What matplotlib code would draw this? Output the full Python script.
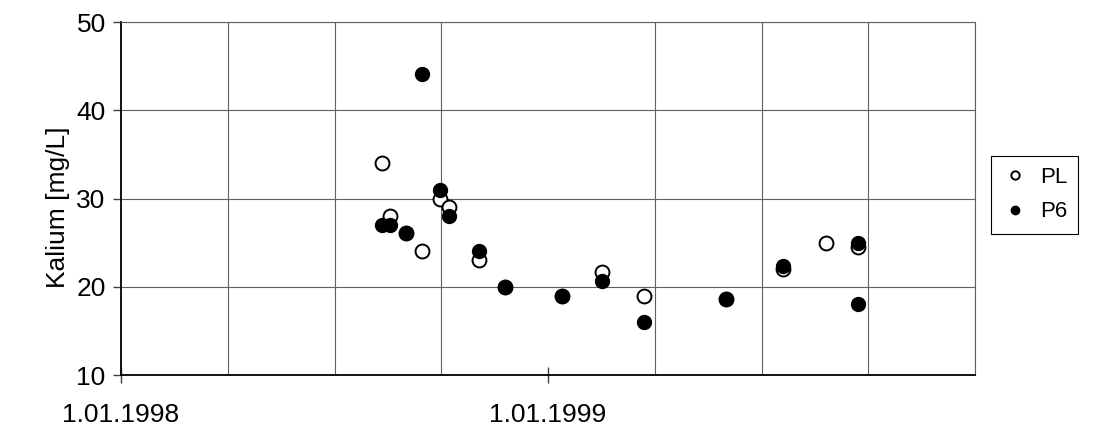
import matplotlib
matplotlib.use('Agg')
import matplotlib.pyplot as plt
import matplotlib.dates as mdates
import numpy as np

plt.rcParams['font.family'] = ['Liberation Sans', 'DejaVu Sans']

# PL samples
pl_dates = ['1998-08-12', '1998-08-19', '1998-09-02', '1998-09-15', '1998-10-01',
            '1998-10-08', '1998-11-03', '1998-11-25', '1999-01-13', '1999-02-16',
            '1999-03-24', '1999-06-02', '1999-07-21', '1999-08-27', '1999-09-23']
pl_vals = [34.0, 28.0, 26.1, 24.0, 30.0,
           29.0, 23.0, 20.0, 19.0, 21.7,
           19.0, 18.6, 22.0, 25.0, 24.5]

# P6 samples
p6_dates = ['1998-08-12', '1998-08-19', '1998-09-02', '1998-09-15', '1998-10-01',
            '1998-10-08', '1998-11-03', '1998-11-25', '1999-01-13', '1999-02-16',
            '1999-03-24', '1999-06-02', '1999-07-21', '1999-09-23', '1999-09-23']
p6_vals = [27.0, 27.0, 26.1, 44.1, 31.0,
           28.0, 24.0, 20.0, 19.0, 20.7,
           16.0, 18.6, 22.4, 25.0, 18.0]

x_labels = ['1.01.1998', '1.01.1999']
label_dates = ['1998-01-01', '1999-01-01']

fig = plt.figure(figsize=(10.97, 4.30), dpi=100)
ax = fig.add_axes([0.1103, 0.1279, 0.7785, 0.8209])

pl_x = mdates.date2num(np.array(pl_dates, dtype='datetime64[D]'))
p6_x = mdates.date2num(np.array(p6_dates, dtype='datetime64[D]'))

ax.plot(pl_x, pl_vals, 'o', ms=10, mfc='white', mec='black', mew=1.4, label='PL', zorder=3)
ax.plot(p6_x, p6_vals, 'o', ms=10, mfc='black', mec='black', mew=1.0, label='P6', zorder=4)

x0 = mdates.date2num(np.datetime64('1998-01-01'))
x1 = mdates.date2num(np.datetime64('2000-01-01'))
ax.set_xlim(x0, x1)
ax.set_ylim(10, 50)

# vertical gridlines every quarter of a year
ax.set_xticks(np.linspace(x0, x1, 9), minor=True)
ax.set_xticks(mdates.date2num(np.array(label_dates, dtype='datetime64[D]')))
ax.set_xticklabels(x_labels)
ax.set_yticks([10, 20, 30, 40, 50])

ax.grid(True, which='minor', axis='x', color='#606060', lw=0.8)
ax.grid(True, which='major', axis='y', color='#606060', lw=0.8)
ax.set_axisbelow(True)

ax.tick_params(axis='x', which='major', direction='inout', length=12, width=1.0,
               labelsize=19, pad=14, color='#404040')
ax.tick_params(axis='x', which='minor', length=0)
ax.tick_params(axis='y', direction='out', length=6, width=1.0, labelsize=19, pad=5,
               color='#404040')

for s in ['left', 'bottom']:
    ax.spines[s].set_color('black')
    ax.spines[s].set_linewidth(1.3)
for s in ['top', 'right']:
    ax.spines[s].set_color('#606060')
    ax.spines[s].set_linewidth(0.8)

ax.set_ylabel('Kalium [mg/L]', fontsize=19)
ax.yaxis.set_label_coords(-0.06, 0.475)

leg = fig.legend(loc='upper left', bbox_to_anchor=(0.9034, 0.6372),
                 bbox_transform=fig.transFigure, borderaxespad=0, fontsize=16,
                 frameon=True, fancybox=False, edgecolor='black', framealpha=1,
                 markerscale=0.6, handletextpad=0.5, handlelength=1.2,
                 borderpad=0.5, labelspacing=0.6)
leg.get_frame().set_linewidth(0.8)

fig.savefig('out.png', dpi=100)
